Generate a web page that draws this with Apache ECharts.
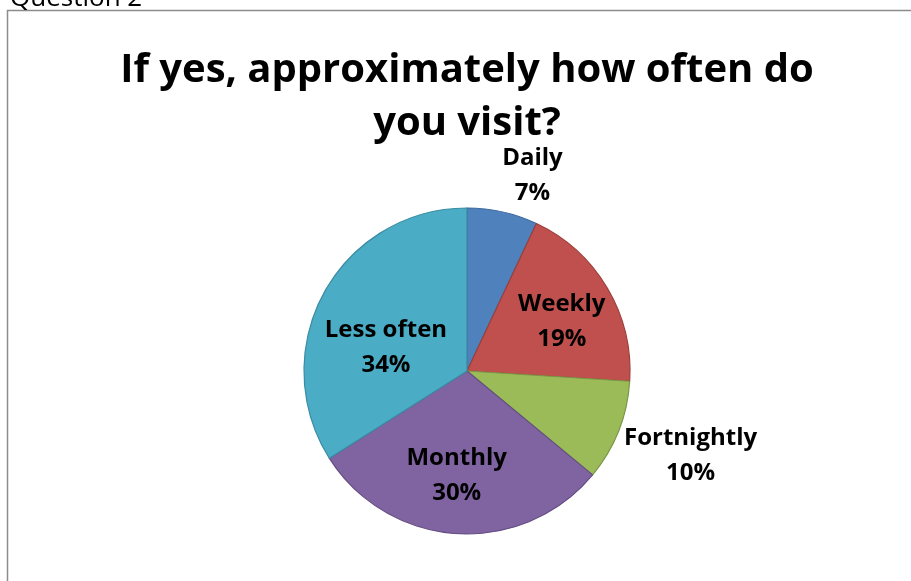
<!DOCTYPE html>
<html>
<head>
<meta charset="utf-8">
<script src="https://cdn.jsdelivr.net/npm/echarts@6/dist/echarts.min.js"></script>
<style>
  html, body { margin: 0; padding: 0; background: #fff; }
  #chart { width: 911px; height: 581px; }
</style>
</head>
<body>
<div id="chart"></div>
<script>
// Survey answers: visit frequency
const categories = ['Daily', 'Weekly', 'Fortnightly', 'Monthly', 'Less often'];
const shares = [7, 19, 10, 30, 34];
const fillColors = ['#4F81BD', '#C0504D', '#9BBB59', '#8064A2', '#4BACC6'];
const edgeColors = ['#3E6A9E', '#9B3F3C', '#7A9645', '#654E82', '#3A8CA3'];
// label nudges relative to the default in-slice anchor
const labelNudges = [[47, -113], [22, -6], [145, 54], [-5, 20], [-7, 17]];

const FONT = '"Open Sans", Lato, sans-serif';

const chart = echarts.init(document.getElementById('chart'), null, { renderer: 'canvas' });

chart.setOption({
  backgroundColor: '#fff',
  animation: false,
  title: {
    text: 'If yes, approximately how often do\nyou visit?',
    left: 462,
    textAlign: 'center',
    top: 39,
    textStyle: {
      fontFamily: FONT,
      fontWeight: 700,
      fontSize: 40,
      lineHeight: 53,
      color: '#000'
    }
  },
  graphic: [
    {
      type: 'rect',
      shape: { x: 7.5, y: 10.5, width: 920, height: 600 },
      style: { fill: 'none', stroke: '#8c8c8c', lineWidth: 1.5 },
      silent: true
    },
    {
      type: 'text',
      left: 10,
      top: -14,
      style: { text: 'Question 2', font: '26px ' + FONT, fill: '#000' },
      silent: true
    }
  ],
  series: [{
    type: 'pie',
    center: [467, 371],
    radius: [0, 163],
    startAngle: 90,
    clockwise: true,
    avoidLabelOverlap: false,
    label: {
      show: true,
      position: 'inside',
      formatter: '{b}\n{d}%',
      fontFamily: FONT,
      fontWeight: 700,
      fontSize: 24,
      lineHeight: 35,
      color: '#000'
    },
    labelLine: { show: false },
    labelLayout: function (params) {
      const n = labelNudges[params.dataIndex];
      return { dx: n[0], dy: n[1] };
    },
    emphasis: { disabled: true },
    data: categories.map((name, i) => ({
      name: name,
      value: shares[i],
      itemStyle: { color: fillColors[i], borderColor: edgeColors[i], borderWidth: 1.2 }
    }))
  }]
});
</script>
</body>
</html>
